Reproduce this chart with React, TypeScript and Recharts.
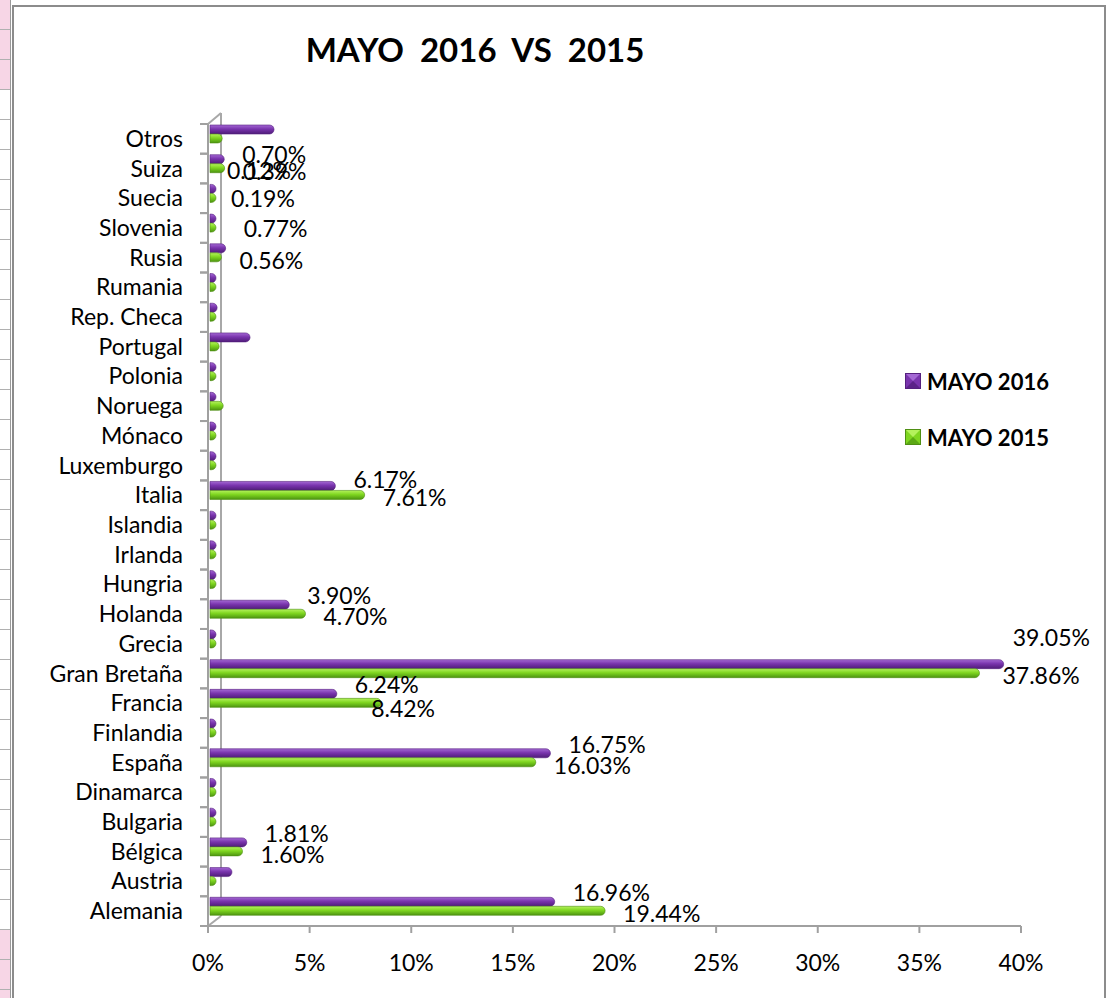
import React from "react";
import { BarChart, Bar, XAxis, YAxis, LabelList, Legend, Customized } from "recharts";

// categories, bottom (Alemania) to top (Otros)
const COUNTRIES = [
  "Alemania", "Austria", "Bélgica", "Bulgaria", "Dinamarca", "España", "Finlandia",
  "Francia", "Gran Bretaña", "Grecia", "Holanda", "Hungria", "Irlanda", "Islandia",
  "Italia", "Luxemburgo", "Mónaco", "Noruega", "Polonia", "Portugal", "Rep. Checa",
  "Rumania", "Rusia", "Slovenia", "Suecia", "Suiza", "Otros",
];

// share in % (unlabelled ones)
const MAYO_2016 = [
  16.96, 1.08, 1.81, 0.05, 0.05, 16.75, 0.05, 6.24, 39.05, 0.05, 3.9, 0.05, 0.3, 0.05,
  6.17, 0.05, 0.05, 0.2, 0.25, 1.97, 0.35, 0.05, 0.77, 0.05, 0.12, 0.7, 3.15,
];
const MAYO_2015 = [
  19.44, 0.3, 1.6, 0.05, 0.05, 16.03, 0.05, 8.42, 37.86, 0.05, 4.7, 0.05, 0.25, 0.05,
  7.61, 0.05, 0.05, 0.65, 0.2, 0.45, 0.2, 0.05, 0.56, 0.05, 0.19, 0.72, 0.6,
];

// data labels as they appear on the chart ("" = none)
const LABELS_2016 = [
  "16.96%", "", "1.81%", "", "", "16.75%", "", "6.24%", "39.05%", "", "3.90%", "", "", "",
  "6.17%", "", "", "", "", "", "", "", "0.77%", "", "0.12%", "0.70%", "",
];
const LABELS_2015 = [
  "19.44%", "", "1.60%", "", "", "16.03%", "", "8.42%", "37.86%", "", "4.70%", "", "", "",
  "7.61%", "", "", "", "", "", "", "", "0.56%", "", "0.19%", "0.39%", "",
];

const X_TICKS = [0, 5, 10, 15, 20, 25, 30, 35, 40];

const SERIES = [
  { key: "m2016", label: "l2016", name: "MAYO 2016", top: "#a468d4", mid: "#7934ad", bottom: "#4f1c78", edge: "#55207f" },
  { key: "m2015", label: "l2015", name: "MAYO 2015", top: "#b4f25c", mid: "#7fd620", bottom: "#4c9410", edge: "#4f8f14" },
];

const FONT = "Lato, 'Open Sans', sans-serif";
const W = 1106;
const H = 998;
const MARGIN = { top: 124, right: 85, bottom: 42, left: 0 };
const YAXIS_W = 208;
const XAXIS_H = 30;
const PLOT_LEFT = MARGIN.left + YAXIS_W;
const PLOT_TOP = MARGIN.top;
const PLOT_BOTTOM = H - MARGIN.bottom - XAXIS_H;
const BAND = (PLOT_BOTTOM - PLOT_TOP) / COUNTRIES.length;

// hand-placed labels in the original (dx, dy)
const NUDGE: Record<string, [number, number]> = {
  "m2016|Gran Bretaña": [-9, -17],
  "m2015|Gran Bretaña": [5, 0],
  "m2015|Francia": [-28, 3],
  "m2016|Italia": [0, 3],
  "m2016|Suiza": [0, 4],
  "m2016|Suecia": [-7, -9],
  "m2015|Suecia": [-3, -2],
  "m2016|Rusia": [0, -11],
};

const data = COUNTRIES.map((name, i) => ({
  name,
  m2016: MAYO_2016[i],
  m2015: MAYO_2015[i],
  l2016: LABELS_2016[i],
  l2015: LABELS_2015[i],
}));

// flat bar with a rounded end, nudged like the 3D original
const RoundBar = (fillId: string, edge: string) => (props: any) => {
  const { x, y, width, height } = props;
  if (width == null || height == null) return null;
  const bx = x + 2;
  const by = y - 5;
  const rx = Math.min(height / 2, width);
  const d = `M${bx},${by} L${bx + width - rx},${by} A${rx},${height / 2} 0 0 1 ${bx + width - rx},${by + height} L${bx},${by + height} Z`;
  return <path d={d} fill={`url(#${fillId})`} stroke={edge} strokeWidth={0.6} />;
};

const barLabel = (seriesKey: string) => (props: any) => {
  const vb = props.viewBox || props;
  const x = vb.x ?? props.x;
  const y = vb.y ?? props.y;
  const width = vb.width ?? props.width;
  const height = vb.height ?? props.height;
  const { value, index } = props;
  if (!value) return null;
  const name = data[index]?.name;
  const [dx, dy] = NUDGE[`${seriesKey}|${name}`] || [0, 0];
  const base = seriesKey === "m2016" ? -5.7 : 6.3;
  return (
    <text
      x={x + width + 20 + dx}
      y={y + height / 2 + base + dy}
      fontFamily={FONT}
      fontSize={23}
      fill="#000"
      textAnchor="start"
    >
      {value}
    </text>
  );
};

const CountryTick = (props: any) => {
  const { y, payload } = props;
  return (
    <g>
      <line x1={PLOT_LEFT - 8} x2={PLOT_LEFT} y1={y - BAND / 2} y2={y - BAND / 2} stroke="#a0a0a0" strokeWidth={2} />
      <line x1={PLOT_LEFT - 8} x2={PLOT_LEFT} y1={y + BAND / 2} y2={y + BAND / 2} stroke="#a0a0a0" strokeWidth={2} />
      <text x={PLOT_LEFT - 25} y={y + 8} textAnchor="end" fontFamily={FONT} fontSize={23} fill="#000">
        {payload.value}
      </text>
    </g>
  );
};

// the 3D wall edges next to the category axis
const WallLines = () => (
  <g stroke="#a8a8a8" strokeWidth={2} fill="none">
    <line x1={PLOT_LEFT + 13} x2={PLOT_LEFT + 13} y1={PLOT_TOP - 11} y2={PLOT_BOTTOM - 10} />
    <line x1={PLOT_LEFT} x2={PLOT_LEFT + 13} y1={PLOT_TOP} y2={PLOT_TOP - 11} />
    <line x1={PLOT_LEFT} x2={PLOT_LEFT + 13} y1={PLOT_BOTTOM} y2={PLOT_BOTTOM - 10} />
  </g>
);

const Marker = ({ s }: { s: (typeof SERIES)[number] }) => (
  <svg width={16} height={16} style={{ display: "block" }}>
    <rect x={0.5} y={0.5} width={15} height={15} fill={s.mid} stroke={s.edge} />
    <polygon points="1,1 15,1 8,8" fill={s.top} />
    <polygon points="1,15 15,15 8,8" fill={s.bottom} opacity={0.7} />
  </svg>
);

const LegendBox = () => (
  <div style={{ fontFamily: FONT }}>
    {SERIES.map((s) => (
      <div key={s.key} style={{ display: "flex", alignItems: "center", gap: 6, height: 56 }}>
        <Marker s={s} />
        <span style={{ fontWeight: 700, fontSize: 22, color: "#000" }}>{s.name}</span>
      </div>
    ))}
  </div>
);

export default function App() {
  return (
    <div style={{ position: "absolute", left: 0, top: 0, width: W, height: H, background: "#fff", overflow: "hidden" }}>
      {/* spreadsheet cells peeking out at the left */}
      <div style={{ position: "absolute", left: 0, top: 0, width: 10, height: H, borderRight: "1px solid #9a9a9a" }}>
        {Array.from({ length: 34 }).map((_, i) => (
          <div
            key={i}
            style={{
              height: 29,
              borderBottom: "1px solid #b0b0b0",
              background: i < 3 || i > 30 ? "#f7d6e6" : "#fff",
            }}
          />
        ))}
      </div>
      <div style={{ position: "absolute", left: 12, top: 5, width: 1090, height: 1000, border: "2px solid #8c8c8c" }} />
      <div
        style={{
          position: "absolute",
          left: 275,
          top: 33,
          width: 400,
          textAlign: "center",
          fontFamily: FONT,
          fontWeight: 700,
          fontSize: 33,
          lineHeight: "33px",
          whiteSpace: "pre",
          color: "#000",
        }}
      >
        {"MAYO  2016  VS  2015"}
      </div>
      <div style={{ position: "absolute", left: 0, top: 0 }}>
        <BarChart width={W} height={H} data={data} layout="vertical" margin={MARGIN} barGap={0} barSize={9}>
          <defs>
            {SERIES.map((s) => (
              <linearGradient key={s.key} id={`g-${s.key}`} x1="0" y1="0" x2="0" y2="1">
                <stop offset="0%" stopColor={s.top} />
                <stop offset="45%" stopColor={s.mid} />
                <stop offset="100%" stopColor={s.bottom} />
              </linearGradient>
            ))}
          </defs>
          <XAxis
            type="number"
            domain={[0, 40]}
            ticks={X_TICKS}
            tickFormatter={(v) => `${v}%`}
            height={XAXIS_H}
            axisLine={{ stroke: "#a0a0a0", strokeWidth: 2 }}
            tickLine={{ stroke: "#a0a0a0", strokeWidth: 2 }}
            tickSize={7}
            tickMargin={22}
            tick={{ fontFamily: FONT, fontSize: 23, fill: "#000" }}
            interval={0}
          />
          <YAxis
            type="category"
            dataKey="name"
            reversed
            width={YAXIS_W}
            axisLine={{ stroke: "#a0a0a0", strokeWidth: 2 }}
            tickLine={false}
            tick={<CountryTick />}
            interval={0}
          />
          <Customized component={WallLines} />
          {SERIES.map((s) => (
            <Bar
              key={s.key}
              dataKey={s.key}
              name={s.name}
              minPointSize={6}
              shape={RoundBar(`g-${s.key}`, s.edge)}
              isAnimationActive={false}
            >
              <LabelList dataKey={s.label} content={barLabel(s.key)} />
            </Bar>
          ))}
          <Legend
            layout="horizontal"
            align="center"
            verticalAlign="middle"
            content={<LegendBox />}
            wrapperStyle={{ position: "absolute", left: 905, top: 353, width: 190 }}
          />
        </BarChart>
      </div>
    </div>
  );
}
